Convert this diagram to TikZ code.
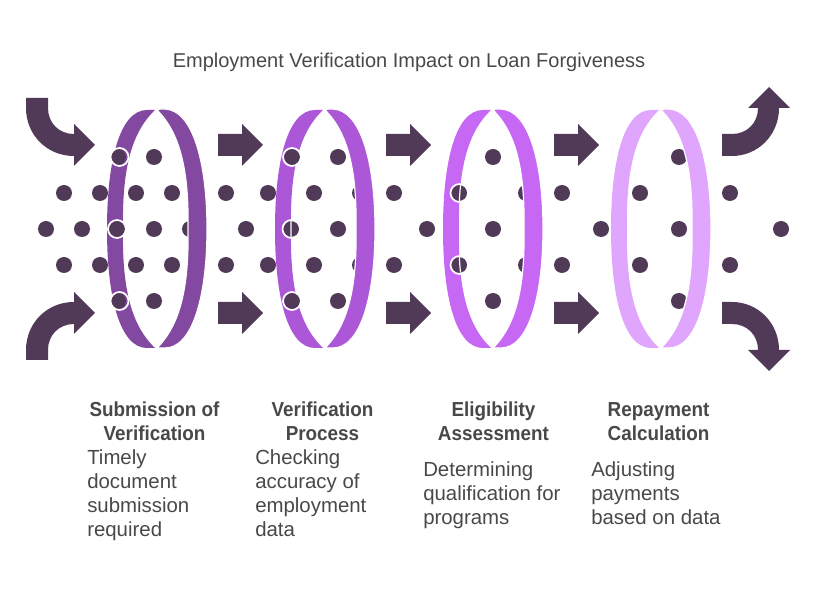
\documentclass[tikz,border=0pt]{standalone}
\usepackage{fontspec}
\setmainfont{Liberation Sans}[BoldFeatures={FakeStretch=0.93}]
\definecolor{dotc}{HTML}{503A57}
\definecolor{ringa}{HTML}{83489F}
\definecolor{ringb}{HTML}{AB57D8}
\definecolor{ringc}{HTML}{C768F5}
\definecolor{ringd}{HTML}{E0A6FD}
\definecolor{txt}{HTML}{484848}
\tikzset{
  px/.style={x=0.75pt,y=-0.75pt},
  dotshape/.style={fill=dotc,draw=none},
  arrowshape/.style={fill=dotc,draw=none},
  halo/.style={draw=white,line width=1.3pt,fill=none},
  titletext/.style={inner sep=0,text=txt,font=\fontsize{15pt}{18pt}\selectfont},
  headtext/.style={inner sep=0,text=txt,align=center,anchor=north,font=\fontsize{15.2pt}{18pt}\selectfont\bfseries},
  bodytext/.style={inner sep=0,text=txt,align=left,anchor=north west,font=\fontsize{15.3pt}{18pt}\selectfont},
}
\newcommand{\leftband}{(155,110) -- (147,110) .. controls (120,110) and (107,160) .. (107,229) .. controls (107,298) and (120,348) .. (147,348) -- (155,348) .. controls (131,325) and (122,288) .. (123,229) .. controls (122,170) and (131,133) .. (155,110) -- cycle}
\newcommand{\rightband}{(157,110) -- (160,109) -- (165,109) .. controls (192,110) and (207,160) .. (207,229) .. controls (207,298) and (192,348) .. (165,348) -- (157,348) .. controls (180,325) and (189,288) .. (188,229) .. controls (189,170) and (180,133) .. (157,110) -- cycle}
\begin{document}
\begin{tikzpicture}[px]
\useasboundingbox (0,0) rectangle (818,591);
% left halves of the rings, under the dots
\foreach \off/\col in {0/ringa,168/ringb,336/ringc,504/ringd}
  \fill[\col,shift={(\off,0)}] \leftband;
% dots
\foreach \x/\y in {
  64/193,100/193,136/193,172/193,226/193,268/193,314/193,360/193,394/193,459/193,526/193,562/193,640/193,730/193,
  64/265,100/265,136/265,172/265,226/265,268/265,314/265,360/265,394/265,459/265,526/265,562/265,640/265,730/265,
  46/229,82/229,117/229,154/229,190/229,246/229,291/229,338/229,427/229,493/229,601/229,679/229,781/229,
  118/157,154/157,292/157,338/157,493/157,679/157,
  118/301,154/301,292/301,338/301,493/301,679/301}
  \fill[dotshape] (\x,\y) circle[radius=8];
% thin line where the ring's inner edge passes over a dot
\foreach \x/\y/\off in {291/229/168,459/193/336,459/265/336}{
  \begin{scope}
    \clip (\x,\y) circle[radius=8];
    \draw[white,line width=0.9pt,shift={(\off,0)}] (155,348) .. controls (131,325) and (122,288) .. (123,229) .. controls (122,170) and (131,133) .. (155,110);
  \end{scope}
}
% white rings round the dots that sit on the band
\foreach \x/\y in {119.5/157,117/229,119.5/301,292/157,291.5/229,292/301,459.5/193,459.5/265}
  \draw[halo] (\x,\y) circle[radius=9];
% right halves of the rings, over the dots
\foreach \off/\col in {0/ringa,168/ringb,336/ringc,504/ringd}
  \filldraw[fill=\col,draw=white,line width=0.9pt,shift={(\off,0)}] \rightband;
% straight arrows
\foreach \x in {0,168,336}
  \foreach \y in {0,168}
    \fill[arrowshape,shift={(\x,\y)}] (218,134) -- (242,134) -- (242,124) -- (263,145) -- (242,166) -- (242,156) -- (218,156) -- cycle;
% curved arrows
\fill[arrowshape] (26,98) -- (48,98) -- (48,108) .. controls (48,123) and (59,134) .. (74,134) -- (74,124) -- (95,145) -- (74,166) -- (74,156) .. controls (47,156) and (26,135) .. (26,108) -- cycle;
\fill[arrowshape] (26,360) -- (48,360) -- (48,350) .. controls (48,335) and (59,324) .. (74,324) -- (74,334) -- (95,313) -- (74,292) -- (74,302) .. controls (47,302) and (26,323) .. (26,350) -- cycle;
\fill[arrowshape] (722,156) -- (722,134) -- (732,134) .. controls (747,134) and (758,123) .. (758,108) -- (748,108) -- (769,87) -- (790,108) -- (779,108) .. controls (779,135) and (758,156) .. (732,156) -- cycle;
\fill[arrowshape] (722,302) -- (722,324) -- (732,324) .. controls (747,324) and (758,335) .. (758,350) -- (748,350) -- (769,371) -- (790,350) -- (779,350) .. controls (779,323) and (758,302) .. (732,302) -- cycle;
% texts
\node[titletext] (title) at (409,62) {Employment Verification Impact on Loan Forgiveness};
\node[headtext] (h1) at (154.5,402) {Submission of\\Verification};
\node[headtext] (h2) at (322.5,402) {Verification\\Process};
\node[headtext] (h3) at (493.5,402) {Eligibility\\Assessment};
\node[headtext] (h4) at (658.5,402) {Repayment\\Calculation};
\node[bodytext] (b1) at (87,449) {Timely\\document\\submission\\required};
\node[bodytext] (b2) at (255,449) {Checking\\accuracy of\\employment\\data};
\node[bodytext] (b3) at (423,461) {Determining\\qualification for\\programs};
\node[bodytext] (b4) at (591,461) {Adjusting\\payments\\based on data};
\end{tikzpicture}
\end{document}
